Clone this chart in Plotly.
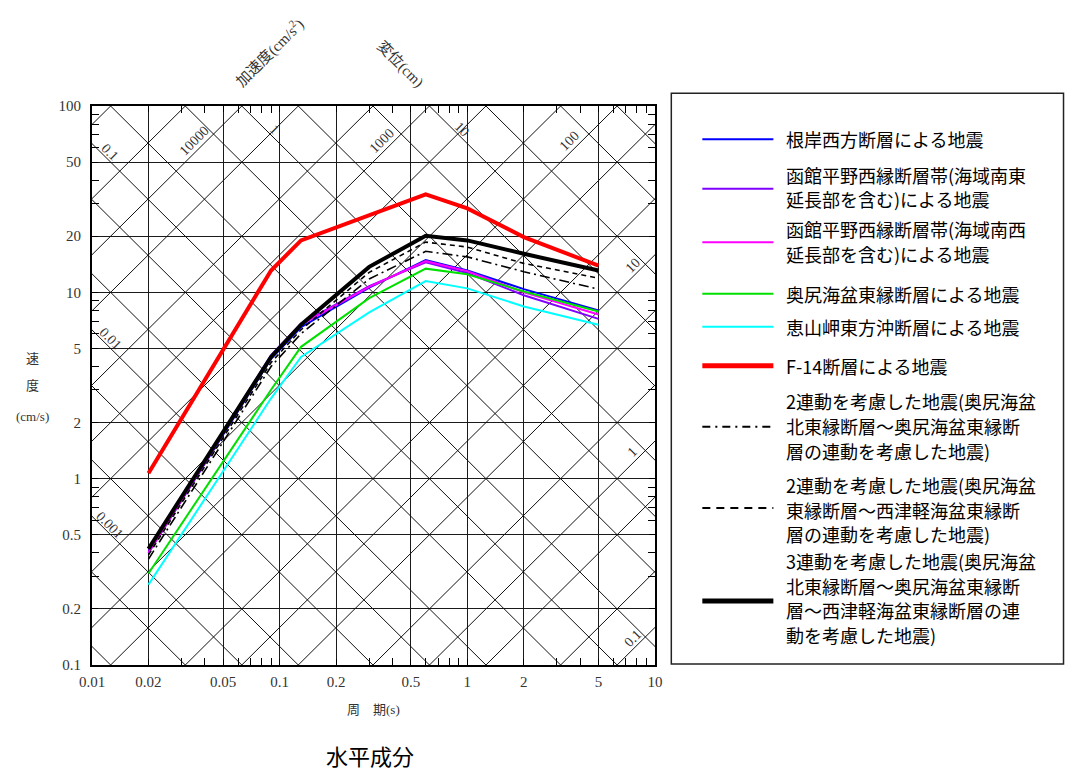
import math
import plotly.graph_objects as go

# ---------------- data ----------------
periods = [0.02, 0.09, 0.13, 0.3, 0.6, 1.0, 2.0, 5.0]

v_nemuro = [0.40, 4.4, 6.5, 10.6, 14.9, 13.1, 10.4, 8.0]
v_hakodate_se = [0.41, 4.6, 6.8, 10.8, 14.5, 12.7, 9.65, 7.2]
v_hakodate_sw = [0.40, 4.5, 6.7, 10.7, 14.7, 13.0, 10.0, 7.6]
v_okushiri = [0.31, 3.0, 5.1, 9.3, 13.4, 12.5, 10.1, 7.9]
v_esan = [0.27, 2.7, 4.5, 7.8, 11.5, 10.5, 8.4, 6.7]
v_f14 = [1.07, 13.1, 19.0, 26.1, 33.6, 28.2, 19.8, 13.9]
v_link2a = [0.37, 4.0, 6.0, 11.8, 16.6, 15.5, 12.9, 10.4]
v_link2b = [0.39, 4.2, 6.3, 12.8, 18.6, 17.5, 14.3, 11.9]
v_link3 = [0.42, 4.5, 6.7, 13.7, 20.1, 19.0, 16.1, 13.1]

names = [
    ["根岸西方断層による地震"],
    ["函館平野西縁断層帯(海域南東", "延長部を含む)による地震"],
    ["函館平野西縁断層帯(海域南西", "延長部を含む)による地震"],
    ["奥尻海盆東縁断層による地震"],
    ["恵山岬東方沖断層による地震"],
    ["F-14断層による地震"],
    ["2連動を考慮した地震(奥尻海盆", "北東縁断層～奥尻海盆東縁断", "層の連動を考慮した地震)"],
    ["2連動を考慮した地震(奥尻海盆", "東縁断層～西津軽海盆東縁断", "層の連動を考慮した地震)"],
    ["3連動を考慮した地震(奥尻海盆", "北東縁断層～奥尻海盆東縁断", "層～西津軽海盆東縁断層の連", "動を考慮した地震)"],
]

x_ticks = [0.01, 0.02, 0.05, 0.1, 0.2, 0.5, 1, 2, 5, 10]
x_ticktext = ["0.01", "0.02", "0.05", "0.1", "0.2", "0.5", "1", "2", "5", "10"]
y_ticks = [0.1, 0.2, 0.5, 1, 2, 5, 10, 20, 50, 100]
y_ticktext = ["0.1", "0.2", "0.5", "1", "2", "5", "10", "20", "50", "100"]

disp_lines = [k * 10 ** n for n in range(-4, 3) for k in (1, 2, 5)]
acc_lines = [k * 10 ** n for n in range(-2, 5) for k in (1, 2, 5)]
disp_labels_left = [0.1, 0.01, 0.001]
disp_labels_top = [1, 10]
acc_labels_top = [10000, 1000, 100]
acc_labels_right = [10, 1, 0.1]

# ---------------- styles ----------------
series = [
    (v_nemuro, "#0000FF", 2, "solid"),
    (v_hakodate_se, "#8000FF", 2, "solid"),
    (v_hakodate_sw, "#FF00FF", 2, "solid"),
    (v_okushiri, "#00E000", 2, "solid"),
    (v_esan, "#00FFFF", 2, "solid"),
    (v_f14, "#FF0000", 4, "solid"),
    (v_link2a, "#000000", 1.6, "10px,4px,2px,4px"),
    (v_link2b, "#000000", 1.6, "5px,4px"),
    (v_link3, "#000000", 4, "solid"),
]
legend_dash = [None] * 6 + ["8px,5px,2px,5px", "8px,6px", None]

TWO_PI = 2 * math.pi
T_MIN, T_MAX = 0.01, 10.0

fig = go.Figure()

# diagonal displacement lines (V = 2*pi*D/T)
dx, dy = [], []
for d in disp_lines:
    dx += [T_MIN, T_MAX, None]
    dy += [TWO_PI * d / T_MIN, TWO_PI * d / T_MAX, None]
fig.add_trace(go.Scatter(x=dx, y=dy, mode="lines", line=dict(color="#111", width=1),
                         hoverinfo="skip", showlegend=False))
# diagonal acceleration lines (V = A*T/(2*pi))
ax_, ay_ = [], []
for a in acc_lines:
    ax_ += [T_MIN, T_MAX, None]
    ay_ += [a * T_MIN / TWO_PI, a * T_MAX / TWO_PI, None]
fig.add_trace(go.Scatter(x=ax_, y=ay_, mode="lines", line=dict(color="#111", width=1),
                         hoverinfo="skip", showlegend=False))

for (vals, color, width, dash), name in zip(series, names):
    fig.add_trace(go.Scatter(x=periods, y=vals, mode="lines", name="".join(name),
                             line=dict(color=color, width=width, dash=dash), showlegend=False))

serif = "Liberation Serif, Noto Sans CJK JP"
cjk = "Noto Sans CJK JP, sans-serif"

def minor_vals(lo, hi):
    out = []
    for n in range(lo, hi):
        for k in (3, 4, 6, 7, 8, 9):
            out.append(k * 10 ** n)
    return out

axis_common = dict(
    type="log", showgrid=True, gridcolor="#1a1a1a", gridwidth=1,
    ticks="inside", ticklen=6, tickcolor="black", tickwidth=1,
    showline=True, linecolor="black", linewidth=2, mirror="allticks",
    zeroline=False, tickfont=dict(family=serif, size=15, color="#333"),
)
fig.update_xaxes(range=[-2, 1], tickmode="array", tickvals=x_ticks, ticktext=x_ticktext,
                 ticklabelstandoff=2,
                 minor=dict(tickmode="array", tickvals=minor_vals(-2, 1), ticks="inside", ticklen=7,
                            tickcolor="black", showgrid=False),
                 **axis_common)
fig.update_yaxes(range=[-1, 2], tickmode="array", tickvals=y_ticks, ticktext=y_ticktext,
                 ticklabelstandoff=6,
                 minor=dict(tickmode="array", tickvals=minor_vals(-1, 2), ticks="inside", ticklen=7,
                            tickcolor="black", showgrid=False),
                 **axis_common)

# ---------------- geometry helpers (pixel -> paper) ----------------
W_FIG, H_FIG = 1067, 771
L, R_EDGE, TOP, BOT = 92, 654.7, 105.7, 665
PW, PH = R_EDGE - L, BOT - TOP

def xp(px):
    return (px - L) / PW

def yp(py):
    return (BOT - py) / PH

annotations = []
lab_font = dict(family=serif, size=14, color="#333")
lg = math.log10

def ann(**kw):
    base = dict(showarrow=False, xanchor="center", yanchor="middle")
    base.update(kw)
    annotations.append(base)

for d in disp_labels_left:
    t = 0.0125
    ann(x=lg(t), y=lg(1.12 * TWO_PI * d / t), xref="x", yref="y",
        text=str(d), textangle=45, font=lab_font)
for d in disp_labels_top:
    t = TWO_PI * d / 67
    ann(x=lg(t), y=lg(75), xref="x", yref="y", text=str(d), textangle=45, font=lab_font)
for a in acc_labels_top:
    t = TWO_PI * 56 / a
    ann(x=lg(t), y=lg(65), xref="x", yref="y", text=str(a), textangle=-45, font=lab_font)
for a in acc_labels_right:
    t = 7.6
    ann(x=lg(t), y=lg(1.15 * a * t / TWO_PI), xref="x", yref="y",
        text=str(a), textangle=-45, font=lab_font)

# axis titles
ann(x=xp(269), y=yp(52), xref="paper", yref="paper",
    text="加速度(cm/s<sup>2</sup>)", textangle=-45,
    font=dict(family=serif, size=15, color="#333"))
ann(x=xp(400), y=yp(64), xref="paper", yref="paper",
    text="変位(cm)", textangle=45, font=dict(family=serif, size=15, color="#333"))
ann(x=xp(373), y=yp(710), xref="paper", yref="paper",
    text="周　期(s)", font=dict(family=serif, size=13, color="#333"))
for txt, py in (("速", 358), ("度", 385), ("(cm/s)", 416)):
    ann(x=xp(33), y=yp(py), xref="paper", yref="paper",
        text=txt, font=dict(family=serif, size=13, color="#333"))
ann(x=xp(370), y=yp(755), xref="paper", yref="paper",
    text="水平成分", font=dict(family=cjk, size=22, color="black"))

# ---------------- manual legend ----------------
shapes = [dict(type="rect", xref="paper", yref="paper", x0=xp(671), x1=xp(1063),
               y0=yp(664), y1=yp(93), line=dict(color="#222", width=1.5), fillcolor="white",
               layer="below")]
sample_y = [139, 188.5, 242, 293.5, 326.5, 365.5, 426.5, 508, 601]
line_y = [
    [138.5],
    [175, 199],
    [229, 253.5],
    [293.5],
    [326.5],
    [365.5],
    [401, 426, 451],
    [485, 509.5, 534],
    [561, 585.5, 610, 634.5],
]
for (vals, color, width, dash), ldash, sy, lys, name in zip(series, legend_dash, sample_y, line_y, names):
    shapes.append(dict(type="line", xref="paper", yref="paper", x0=xp(702), x1=xp(773),
                       y0=yp(sy), y1=yp(sy),
                       line=dict(color=color, width=max(width, 2) if width < 3 else 5,
                                 dash=ldash if ldash else "solid")))
    for txt, ly in zip(name, lys):
        ann(x=xp(784), y=yp(ly), xref="paper", yref="paper", xanchor="left",
            align="left", text=txt, font=dict(family=cjk, size=18, color="black"))

fig.update_layout(
    width=W_FIG, height=H_FIG,
    margin=dict(l=L, r=W_FIG - R_EDGE, t=TOP, b=H_FIG - BOT, pad=0),
    paper_bgcolor="white", plot_bgcolor="white",
    showlegend=False, annotations=annotations, shapes=shapes,
)

fig.write_html("out.html", config={"displayModeBar": False},
               post_script="document.body.style.margin='0';")
